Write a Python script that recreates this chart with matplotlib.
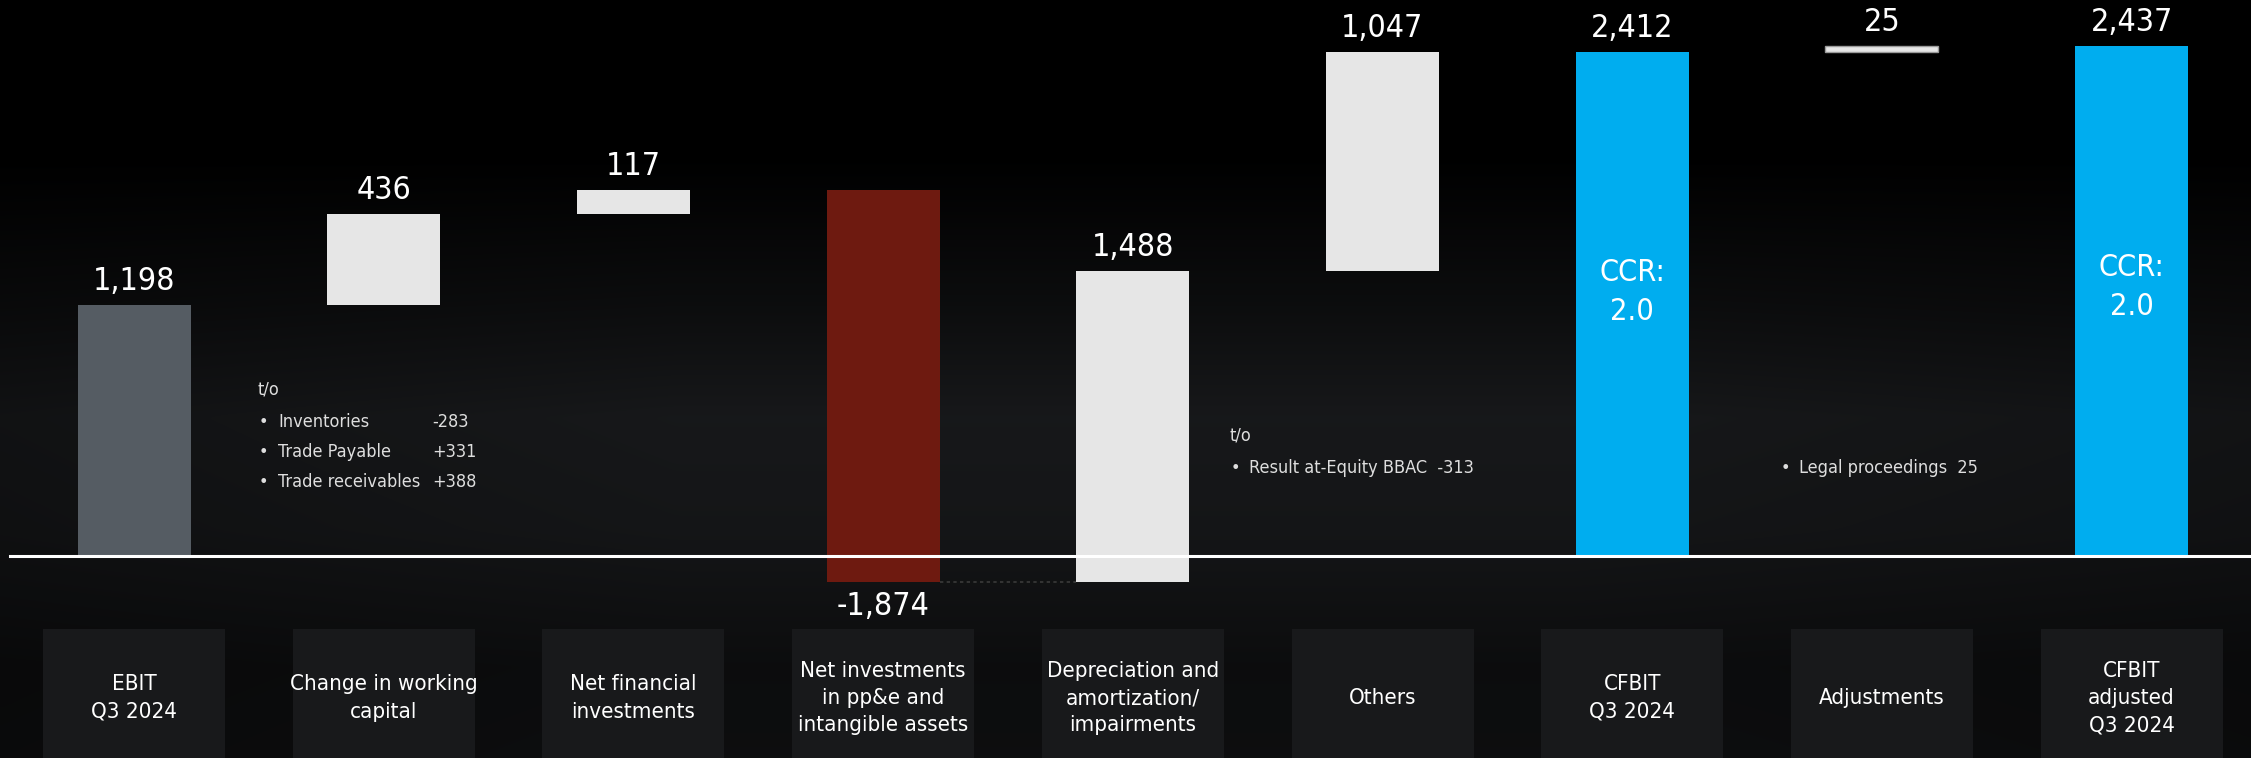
import matplotlib
matplotlib.use("Agg")
import matplotlib.pyplot as plt
import numpy as np
from matplotlib import font_manager

# waterfall data (EUR m)
categories = ["EBIT\nQ3 2024", "Change in working\ncapital", "Net financial\ninvestments",
              "Net investments\nin pp&e and\nintangible assets", "Depreciation and\namortization/\nimpairments",
              "Others", "CFBIT\nQ3 2024", "Adjustments", "CFBIT\nadjusted\nQ3 2024"]
values = [1198, 436, 117, -1874, 1488, 1047, 2412, 25, 2437]
kinds = ["total", "delta", "delta", "delta", "delta", "delta", "total", "delta", "total"]
value_labels = ["1,198", "436", "117", "-1,874", "1,488", "1,047", "2,412", "25", "2,437"]
ccr_labels = {6: "CCR:\n2.0", 8: "CCR:\n2.0"}

wc_notes = [("Inventories", "-283"), ("Trade Payable", "+331"), ("Trade receivables", "+388")]
others_note = "Result at-Equity BBAC  -313"
adj_note = "Legal proceedings  25"

# pick a narrow font if there is one
narrow = [f for f in font_manager.fontManager.ttflist
          if ("Narrow" in f.name or "Condensed" in f.fname or "Narrow" in f.fname)
          and "Bold" not in f.fname and "Oblique" not in f.fname and "Italic" not in f.fname]
if narrow:
    nf = sorted(narrow, key=lambda f: ("Liberation" not in f.fname, "Mono" in f.fname, "Serif" in f.fname))[0]
    font_manager.fontManager.addfont(nf.fname)
    plt.rcParams['font.family'] = [nf.name, "DejaVu Sans"]
    plt.rcParams['font.stretch'] = nf.stretch
else:
    plt.rcParams['font.family'] = ["DejaVu Sans"]

fig = plt.figure(figsize=(22.51, 7.58), dpi=100)
ax = fig.add_axes([0, 0, 1, 1])
ax.set_axis_off()

step = 249.7          # px between categories
ppu = 0.2091          # px per EUR m
x0, y0 = 134, 556     # px of first category / zero line
xlim = (-x0 / step, (2251 - x0) / step)
ylim = (-(758 - y0) / ppu, y0 / ppu)
ax.set_xlim(*xlim)
ax.set_ylim(*ylim)

# background gradient
ys = np.linspace(0, 1, 300)
prof = np.interp(ys, [0, 0.12, 0.3, 0.45, 0.6, 0.8, 1.0],
                 [0.055, 0.05, 0.085, 0.095, 0.05, 0.0, 0.0])
xs = np.linspace(0, 1, 400)
hprof = np.interp(xs, [0, 0.3, 0.7, 1.0], [0.75, 1.0, 1.0, 0.8])
grad = prof[:, None] * hprof[None, :]
rgb = np.stack([grad * 0.95, grad * 1.0, grad * 1.08], axis=-1).clip(0, 1)
ax.imshow(rgb, extent=[xlim[0], xlim[1], ylim[0], ylim[1]], origin='lower',
          aspect='auto', zorder=0, interpolation='bicubic')

colors = ["#555c63", "#e6e6e6", "#e6e6e6", "#6e1a10", "#e6e6e6", "#e6e6e6", "#00adef", "#e6e6e6", "#00adef"]
bw = 113 / step

running = 0
bottoms, tops = [], []
for i, (v, k) in enumerate(zip(values, kinds)):
    if k == "total":
        b, t = 0, v
        running = v
    else:
        b, t = running, running + v
        running += v
    bottoms.append(min(b, t))
    tops.append(max(b, t))
    ax.bar(i, t - b, bottom=b, width=bw, color=colors[i], zorder=3,
           edgecolor="#9a9a9a" if i == 7 else colors[i], linewidth=1 if i == 7 else 0)
    if v < 0:
        ax.text(i, min(b, t) - 25 / ppu, value_labels[i], ha='center', va='center',
                color='white', fontsize=23, zorder=5)
    else:
        ax.text(i, max(b, t) + 8 / ppu, value_labels[i], ha='center', va='bottom',
                color='white', fontsize=23, zorder=5)

# connector under net investments
ax.plot([3 + bw / 2, 4 - bw / 2], [bottoms[3], bottoms[3]], ls=(0, (2, 2)),
        color="#3a3a3a", lw=1.2, zorder=2)

# zero line
ax.plot([xlim[0] + 10 / step, xlim[1]], [0, 0], color='white', lw=2.2, zorder=4)

# CCR labels
for i, txt in ccr_labels.items():
    ax.text(i, tops[i] - 1150, txt, ha='center', va='center', color='white',
            fontsize=22, linespacing=1.45, zorder=5)

# category boxes
box_top = -(629 - y0) / ppu
bxw = 182 / step
for i, c in enumerate(categories):
    ax.bar(i, ylim[0] - box_top, bottom=box_top, width=bxw, color="#18191b", zorder=1)
    ax.text(i, -(698 - y0) / ppu, c, ha='center', va='center', color='white',
            fontsize=16, linespacing=1.45, zorder=5)

# side notes
note_c = "#dedede"
def px(x, y):
    return (x - x0) / step, (y0 - y) / ppu

ax.text(*px(258, 390), "t/o", color=note_c, fontsize=13, va='center', zorder=5)
for j, (name, val) in enumerate(wc_notes):
    yy = 422 + j * 30
    ax.text(*px(259, yy), "\u2022", color=note_c, fontsize=13, va='center', zorder=5)
    ax.text(*px(278, yy), name, color=note_c, fontsize=13, va='center', zorder=5)
    ax.text(*px(432, yy), val, color=note_c, fontsize=13, va='center', zorder=5)

ax.text(*px(1230, 436), "t/o", color=note_c, fontsize=13, va='center', zorder=5)
ax.text(*px(1231, 468), "\u2022", color=note_c, fontsize=13, va='center', zorder=5)
ax.text(*px(1249, 468), others_note, color=note_c, fontsize=13, va='center', zorder=5)

ax.text(*px(1781, 468), "\u2022", color=note_c, fontsize=13, va='center', zorder=5)
ax.text(*px(1799, 468), adj_note, color=note_c, fontsize=13, va='center', zorder=5)

fig.savefig("out.png", dpi=100, facecolor='black')
